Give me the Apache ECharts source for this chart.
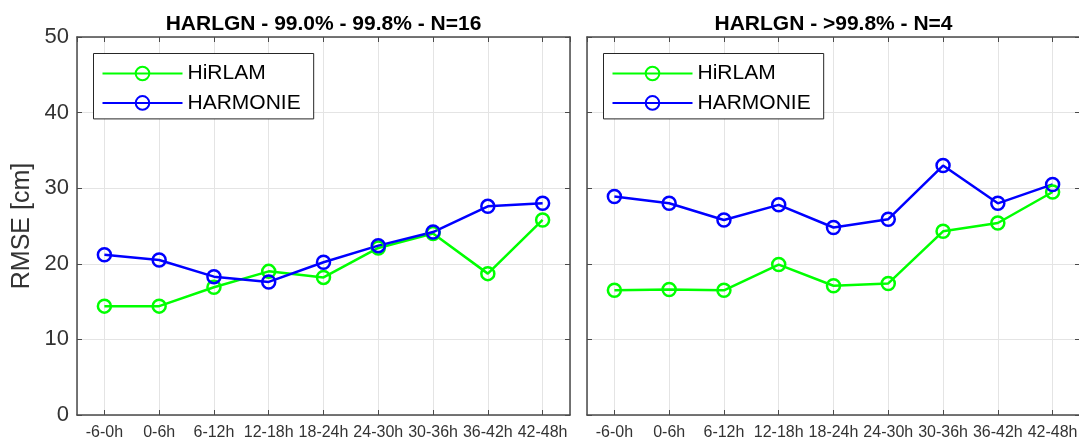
<!DOCTYPE html>
<html>
<head>
<meta charset="utf-8">
<script src="https://cdn.jsdelivr.net/npm/echarts@6/dist/echarts.min.js"></script>
<style>
  html, body { margin: 0; padding: 0; background: #fff; }
  #chart { width: 1079px; height: 439px; }
</style>
</head>
<body>
<div id="chart"></div>
<script>
// Forecast-range bins shared by both panels
const categories = ['-6-0h', '0-6h', '6-12h', '12-18h', '18-24h', '24-30h', '30-36h', '36-42h', '42-48h'];

// RMSE [cm], panel 1: 99.0% - 99.8% (N=16)
const hirlamA   = [14.4, 14.4, 16.9, 19.0, 18.2, 22.1, 24.0, 18.7, 25.8];
const harmonieA = [21.2, 20.5, 18.3, 17.6, 20.2, 22.4, 24.2, 27.6, 28.0];

// RMSE [cm], panel 2: >99.8% (N=4)
const hirlamB   = [16.5, 16.6, 16.5, 19.9, 17.1, 17.4, 24.3, 25.4, 29.5];
const harmonieB = [28.9, 28.0, 25.8, 27.8, 24.8, 25.9, 33.0, 28.0, 30.5];

const panelTitles = ['HARLGN - 99.0% - 99.8% - N=16', 'HARLGN - >99.8% - N=4'];
const seriesNames = ['HiRLAM', 'HARMONIE'];
const yMin = 0, yMax = 50, yStep = 10;

const FONT = '"Liberation Sans", Arial, Helvetica, sans-serif';
const GREEN = '#00ff00';
const BLUE = '#0000ff';
const AXIS_COLOR = '#4a4a4a';
const GRID_COLOR = '#e4e4e4';
const LABEL_COLOR = '#333333';

const panels = [
  { left: 77, width: 493, hirlam: hirlamA, harmonie: harmonieA, title: panelTitles[0], yLabels: true },
  { left: 587, width: 493, hirlam: hirlamB, harmonie: harmonieB, title: panelTitles[1], yLabels: false }
];
const TOP = 37, HEIGHT = 378;

const toPoints = vals => vals.map((v, i) => [i + 1, v]);
const catLabel = v => (Number.isInteger(v) && v >= 1 && v <= categories.length) ? categories[v - 1] : '';

const grids = [], xAxes = [], yAxes = [], series = [], legends = [], graphics = [];

const axisLine = { show: true, onZero: false, lineStyle: { color: AXIS_COLOR, width: 1.5 } };
const axisTick = { show: true, inside: true, length: 5, lineStyle: { color: AXIS_COLOR, width: 1 } };

panels.forEach((p, k) => {
  grids.push({
    left: p.left, top: TOP, width: p.width, height: HEIGHT,
    containLabel: false, outerBoundsMode: 'none'
  });

  const xBase = {
    type: 'value', gridIndex: k, min: 0.5, max: categories.length + 0.5,
    minInterval: 1, maxInterval: 1,
    axisLine, axisTick
  };
  // bottom axis with the bin labels and vertical grid lines
  xAxes.push(Object.assign({}, xBase, {
    position: 'bottom',
    axisLabel: { show: true, margin: 10, fontSize: 16, color: LABEL_COLOR, fontFamily: FONT,
                 formatter: catLabel, showMinLabel: false, showMaxLabel: false },
    splitLine: { show: true, lineStyle: { color: GRID_COLOR, width: 1 } }
  }));
  // top edge of the box with inward ticks
  xAxes.push(Object.assign({}, xBase, {
    position: 'top',
    axisLabel: { show: false },
    splitLine: { show: false }
  }));

  const yBase = {
    type: 'value', gridIndex: k, min: yMin, max: yMax, interval: yStep,
    axisLine, axisTick
  };
  yAxes.push(Object.assign({}, yBase, {
    position: 'left',
    axisLabel: { show: p.yLabels, margin: 8, fontSize: 22, color: LABEL_COLOR, fontFamily: FONT },
    splitLine: { show: true, lineStyle: { color: GRID_COLOR, width: 1 } },
    name: p.yLabels ? 'RMSE [cm]' : '',
    nameLocation: 'middle',
    nameGap: 42,
    nameTextStyle: { fontSize: 25, color: LABEL_COLOR, fontFamily: FONT }
  }));
  yAxes.push(Object.assign({}, yBase, {
    position: 'right',
    axisLabel: { show: false },
    splitLine: { show: false }
  }));

  const mk = (name, color, vals) => ({
    name, type: 'line',
    xAxisIndex: 2 * k, yAxisIndex: 2 * k,
    data: toPoints(vals),
    symbol: 'circle', symbolSize: 13,
    lineStyle: { color, width: 2.5 },
    itemStyle: { color: 'transparent', borderColor: color, borderWidth: 2.5 },
    emphasis: { disabled: true },
    animation: false, z: 3
  });
  series.push(mk(seriesNames[0], GREEN, p.hirlam));
  series.push(mk(seriesNames[1], BLUE, p.harmonie));

  legends.push({
    left: p.left + 16.5, top: 53.5,
    orient: 'vertical',
    data: seriesNames,
    itemWidth: 80, itemHeight: 17, itemGap: 7.4,
    padding: [9, 13, 5, 8],
    borderColor: '#262626', borderWidth: 1,
    backgroundColor: '#ffffff',
    selectedMode: false,
    textStyle: { fontSize: 21, lineHeight: 22, color: '#000', fontFamily: FONT }
  });

  graphics.push({
    type: 'text',
    x: p.left + p.width / 2, y: 24,
    style: {
      text: p.title, align: 'center', verticalAlign: 'middle',
      font: 'bold 21px ' + FONT, fill: '#000'
    }
  });
});

const chart = echarts.init(document.getElementById('chart'), null, { renderer: 'canvas' });
chart.setOption({
  animation: false,
  backgroundColor: '#ffffff',
  grid: grids,
  xAxis: xAxes,
  yAxis: yAxes,
  legend: legends,
  series: series,
  graphic: graphics
});
</script>
</body>
</html>
